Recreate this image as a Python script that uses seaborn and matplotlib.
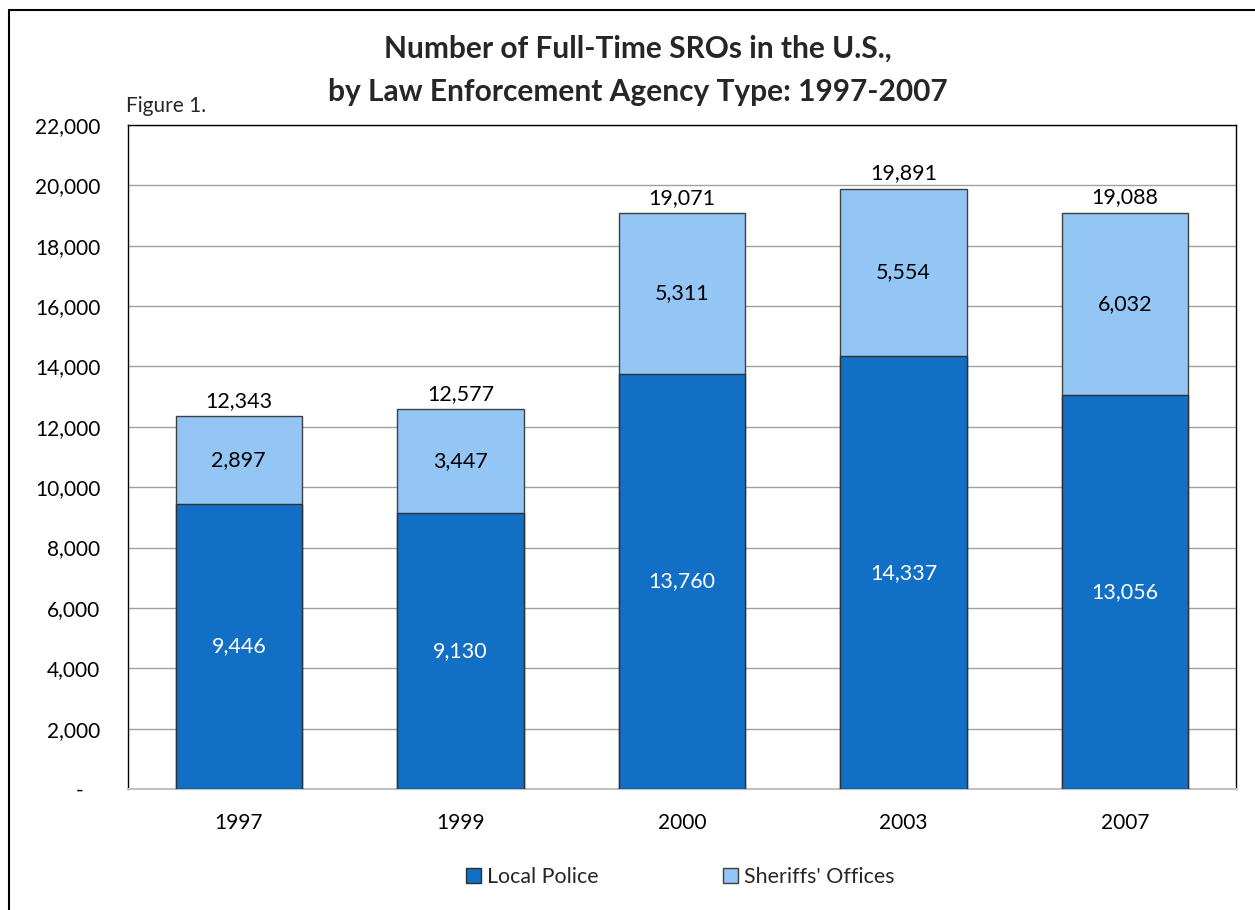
import matplotlib
matplotlib.use("Agg")
import matplotlib.pyplot as plt
import seaborn as sns
import pandas as pd
from matplotlib.patches import Patch
from matplotlib.lines import Line2D
from matplotlib.ticker import FuncFormatter, MultipleLocator

years = ["1997", "1999", "2000", "2003", "2007"]
local_police = [9446, 9130, 13760, 14337, 13056]
sheriffs = [2897, 3447, 5311, 5554, 6032]
totals = [12343, 12577, 19071, 19891, 19088]

sns.set_theme(style="white")
plt.rcParams["font.family"] = ["Lato", "DejaVu Sans"]

dark = "#116FC5"
light = "#93C5F5"

fig = plt.figure(figsize=(12.55, 9.10), dpi=100)
ax = fig.add_axes([128/1255, 1-789/910, (1236-128)/1255, (789-125)/910])

df = pd.DataFrame({"year": years, "local": local_police, "sheriffs": sheriffs, "total": totals})

sns.barplot(data=df, x="year", y="total", color=light, saturation=1, width=0.57,
            edgecolor="#404040", linewidth=1.0, ax=ax, zorder=3)
sns.barplot(data=df, x="year", y="local", color=dark, saturation=1, width=0.57,
            edgecolor="#303030", linewidth=1.0, ax=ax, zorder=4)

ax.set_ylim(0, 22000)
ax.set_xlim(-0.5, 4.5)
ax.yaxis.set_major_locator(MultipleLocator(2000))
ax.yaxis.set_major_formatter(FuncFormatter(lambda v, p: "-   " if v == 0 else f"{int(v):,}"))
ax.grid(axis="y", color="#a0a0a0", linewidth=1.0, zorder=0)
ax.set_axisbelow(True)
ax.set_xlabel("")
ax.set_ylabel("")
ax.tick_params(axis="both", length=0, labelsize=15, colors="black")
ax.tick_params(axis="y", pad=20)
ax.tick_params(axis="x", pad=17)
for lbl in ax.get_yticklabels():
    lbl.set_horizontalalignment("right")
for s in ["top", "right", "left"]:
    ax.spines[s].set_color("black")
    ax.spines[s].set_linewidth(1.0)
ax.spines["bottom"].set_color("#c0c0c0")
ax.spines["bottom"].set_linewidth(1.5)

for i in range(len(years)):
    ax.text(i, local_police[i] / 2, f"{local_police[i]:,}", ha="center", va="center",
            color="white", fontsize=15.5, zorder=6)
    ax.text(i, local_police[i] + sheriffs[i] / 2, f"{sheriffs[i]:,}", ha="center", va="center",
            color="black", fontsize=15.5, zorder=6)
    ax.text(i, totals[i] + 180, f"{totals[i]:,}", ha="center", va="bottom",
            color="black", fontsize=15.5, zorder=6)

fig.text(0.508, 1-49/910, "Number of Full-Time SROs in the U.S.,", ha="center", va="center",
         fontsize=21.5, fontweight="bold")
fig.text(0.508, 1-92/910, "by Law Enforcement Agency Type: 1997-2007", ha="center", va="center",
         fontsize=21.5, fontweight="bold")
fig.text(126/1255, 1-106/910, "Figure 1.", ha="left", va="center", fontsize=15)

handles = [Patch(facecolor=dark, edgecolor="#303030", linewidth=1.0, label="Local Police"),
           Patch(facecolor=light, edgecolor="#404040", linewidth=1.0, label="Sheriffs' Offices")]
fig.legend(handles=handles, loc="center", bbox_to_anchor=(0.542, 1-877/910), ncol=2,
           frameon=False, fontsize=15.4, handlelength=0.7, handleheight=0.7,
           handletextpad=0.3, columnspacing=5.8)

# outer border (left and top)
fig.add_artist(Line2D([9/1255, 9/1255], [0, 1-10/910], transform=fig.transFigure,
                      color="black", linewidth=1.5))
fig.add_artist(Line2D([9/1255, 1], [1-10/910, 1-10/910], transform=fig.transFigure,
                      color="black", linewidth=1.5))

fig.savefig("out.png", dpi=100, facecolor="white")
